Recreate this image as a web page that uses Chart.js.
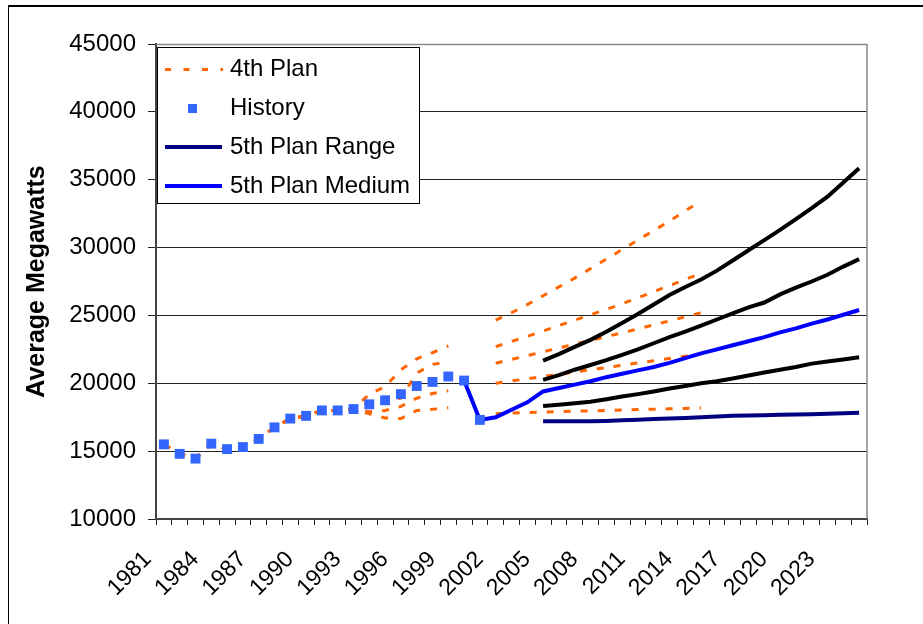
<!DOCTYPE html>
<html>
<head>
<meta charset="utf-8">
<script src="https://cdn.jsdelivr.net/npm/chart.js@4.4.1/dist/chart.umd.min.js"></script>
<style>
  html, body { margin: 0; padding: 0; background: #fff; }
  canvas { display: block; }
</style>
</head>
<body>
<canvas id="loadChart" width="923" height="624"></canvas>
<script>
// Regional load: history, 4th plan forecasts and 5th plan forecasts (average MW)
const years = ["1981","1982","1983","1984","1985","1986","1987","1988","1989","1990",
  "1991","1992","1993","1994","1995","1996","1997","1998","1999","2000",
  "2001","2002","2003","2004","2005","2006","2007","2008","2009","2010",
  "2011","2012","2013","2014","2015","2016","2017","2018","2019","2020",
  "2021","2022","2023","2024","2025"];

// actual loads 1981-2001
const history = [15500, 14800, 14450, 15550, 15150, 15300, 15900, 16750, 17400, 17600,
  18000, 18000, 18100, 18450, 18750, 19200, 19800, 20100, 20500, 20200, 17300];

// 4th plan, 1994-1999 fan (high .. low)
const fan4High    = [19200, 19750, 21000, 21800, 22250, 22750];
const fan4MedHigh = [18600, 18750, 18900, 20750, 21400, 21550];
const fan4Medium  = [18450, 18750, 19200, 19800, 20100, 20500];
const fan4MedLow  = [17900, 18000, 18300, 18900, 19250, 19450];
const fan4Low     = [17750, 17450, 17400, 18000, 18080, 18200];

// 4th plan, 2002-2015 (high .. low)
const late4High    = [24650, 25200, 25800, 26450, 27100, 27750, 28450, 29150, 29850, 30550, 31250, 31950, 32700, 33450];
const late4MedHigh = [22700, 23080, 23460, 23850, 24250, 24650, 25050, 25450, 25850, 26300, 26750, 27200, 27650, 28100];
const late4Medium  = [21480, 21760, 22040, 22320, 22600, 22880, 23160, 23440, 23720, 24000, 24300, 24600, 24900, 25200];
const late4MedLow  = [20000, 20170, 20330, 20500, 20660, 20830, 21000, 21160, 21330, 21500, 21660, 21830, 22000, 22170];
const late4Low     = [17750, 17800, 17850, 17880, 17910, 17940, 17970, 18000, 18030, 18060, 18090, 18120, 18150, 18180];

// 5th plan medium, 2000-2025
const fifthMedium = [20200, 17300, 17500, 18050, 18600, 19400, 19650, 19900, 20150, 20450, 20700,
  20950, 21200, 21500, 21850, 22200, 22500, 22800, 23100, 23400, 23750, 24050, 24400, 24700, 25050, 25400];

// 5th plan range, 2005-2025
const fifthHigh    = [21670, 22150, 22680, 23200, 23800, 24450, 25100, 25800, 26500, 27100, 27650,
  28300, 29050, 29800, 30550, 31300, 32100, 32900, 33750, 34800, 35850];
const fifthMedHigh = [20250, 20600, 21000, 21350, 21700, 22100, 22500, 22950, 23400, 23800, 24250,
  24700, 25150, 25600, 25950, 26550, 27050, 27500, 28000, 28600, 29150];
const fifthMedLow  = [18320, 18420, 18530, 18640, 18830, 19020, 19200, 19400, 19620, 19800, 20000,
  20150, 20350, 20580, 20800, 21000, 21200, 21450, 21600, 21750, 21920];
const fifthLow     = [17200, 17200, 17200, 17200, 17230, 17280, 17320, 17360, 17400, 17450, 17500,
  17550, 17600, 17620, 17650, 17680, 17700, 17720, 17760, 17800, 17830];

const FONT = "'Liberation Sans', Arial, sans-serif";
const ORANGE = "#ff6600";
const NAVY = "#000080";
const BLUE = "#0000ff";
const HIST = "#3366ff";

// put a partial series into the full year range
function place(startYear, vals) {
  const out = years.map(() => null);
  const i0 = years.indexOf(String(startYear));
  vals.forEach((v, i) => { out[i0 + i] = v; });
  return out;
}

function fourth(fan, late) {
  const out = place(1981, history.slice(0, 13));
  fan.forEach((v, i) => { out[13 + i] = v; });
  late.forEach((v, i) => { out[21 + i] = v; });
  return out;
}

const fourthSets = [
  [fan4High, late4High], [fan4MedHigh, late4MedHigh], [fan4Medium, late4Medium],
  [fan4MedLow, late4MedLow], [fan4Low, late4Low]
].map((p, i) => ({
  label: i === 0 ? "4th Plan" : "",
  data: fourth(p[0], p[1]),
  borderColor: ORANGE,
  borderWidth: 3,
  borderDash: [7, 10],
  pointRadius: 0,
  spanGaps: false,
  order: 3
}));

function plan5(label, data, color) {
  return { label: label, data: data, borderColor: color, borderWidth: 4, pointRadius: 0, order: 2 };
}

// white page, outer frame and the grey plot border
const frame = {
  id: "frame",
  beforeDraw(chart) {
    const c = chart.ctx;
    c.save();
    c.fillStyle = "#fff";
    c.fillRect(0, 0, chart.width, chart.height);
    c.strokeStyle = "#000";
    c.lineWidth = 1;
    c.beginPath();
    c.moveTo(8.5, 6); c.lineTo(8.5, chart.height);
    c.stroke();
    c.lineWidth = 2;
    c.beginPath();
    c.moveTo(8, 6); c.lineTo(chart.width, 6);
    c.stroke();
    c.restore();
  },
  beforeDatasetsDraw(chart) {
    const a = chart.chartArea, c = chart.ctx;
    c.save();
    c.strokeStyle = "#888";
    c.lineWidth = 1.5;
    c.beginPath();
    c.moveTo(a.left, a.top + 0.5); c.lineTo(a.right, a.top + 0.5);
    c.moveTo(a.right, a.top); c.lineTo(a.right, a.bottom);
    c.stroke();
    c.restore();
  }
};

// boxed legend in the top left corner of the plot
const legendBox = {
  id: "legendBox",
  afterDatasetsDraw(chart) {
    const c = chart.ctx;
    const items = [
      { text: "4th Plan", kind: "dash", color: ORANGE },
      { text: "History", kind: "square", color: HIST },
      { text: "5th Plan Range", kind: "line", color: NAVY },
      { text: "5th Plan Medium", kind: "line", color: BLUE }
    ];
    const rows = [69.5, 108.5, 147, 186];
    c.save();
    c.fillStyle = "#fff";
    c.fillRect(157.5, 47.5, 262, 156);
    c.strokeStyle = "#000";
    c.lineWidth = 1;
    c.strokeRect(157.5, 47.5, 262, 156);
    items.forEach((it, i) => {
      const y = rows[i];
      c.setLineDash([]);
      if (it.kind === "dash") {
        c.strokeStyle = it.color;
        c.lineWidth = 3;
        c.setLineDash([6, 12.5]);
        c.beginPath(); c.moveTo(165, y); c.lineTo(223, y); c.stroke();
      } else if (it.kind === "line") {
        c.strokeStyle = it.color;
        c.lineWidth = 4;
        c.beginPath(); c.moveTo(165, y); c.lineTo(222, y); c.stroke();
      } else {
        c.fillStyle = it.color;
        c.fillRect(188, y - 4.5, 9, 9);
      }
      c.setLineDash([]);
      c.fillStyle = "#000";
      c.font = "24px " + FONT;
      c.textBaseline = "middle";
      c.textAlign = "left";
      c.fillText(it.text, 230, y);
    });
    c.restore();
  }
};

const ctx = document.getElementById("loadChart").getContext("2d");
const loadChart = new Chart(ctx, {
  type: "line",
  data: {
    labels: years,
    datasets: [
      {
        label: "History",
        data: place(1981, history),
        showLine: false,
        pointStyle: "rect",
        pointRadius: 7,
        pointBackgroundColor: HIST,
        pointBorderColor: HIST,
        pointBorderWidth: 0,
        order: 0
      },
      plan5("5th Plan Medium", place(2000, fifthMedium), BLUE),
      plan5("5th Plan Range", place(2005, fifthLow), NAVY),
      plan5("", place(2005, fifthMedLow), "#000"),
      plan5("", place(2005, fifthMedHigh), "#000"),
      plan5("", place(2005, fifthHigh), "#000"),
      ...fourthSets
    ]
  },
  options: {
    responsive: false,
    animation: false,
    layout: { padding: { top: 44, right: 56, left: 0, bottom: 0 } },
    plugins: { legend: { display: false }, tooltip: { enabled: false } },
    elements: { line: { tension: 0 } },
    scales: {
      x: {
        offset: true,
        grid: { offset: true, drawOnChartArea: false, tickLength: 6, color: "#222" },
        border: { color: "#444", width: 2 },
        ticks: {
          autoSkip: false,
          maxRotation: 45,
          minRotation: 45,
          padding: 21,
          labelOffset: -16,
          color: "#000",
          font: { family: FONT, size: 23 },
          callback: (v, i) => (i % 3 === 0 ? years[i] : "")
        },
        afterFit: s => { s.height = 105; }
      },
      y: {
        min: 10000,
        max: 45000,
        grid: { color: "#222", tickLength: 8 },
        border: { color: "#444", width: 2 },
        ticks: {
          stepSize: 5000,
          padding: 12,
          color: "#000",
          font: { family: FONT, size: 24 },
          callback: v => String(v)
        },
        title: {
          display: true,
          text: "Average Megawatts",
          color: "#000",
          font: { family: FONT, size: 25, weight: "bold" },
          padding: { top: 22, bottom: 0 }
        },
        afterFit: s => { s.width = 156; }
      }
    }
  },
  plugins: [frame, legendBox]
});
</script>
</body>
</html>
